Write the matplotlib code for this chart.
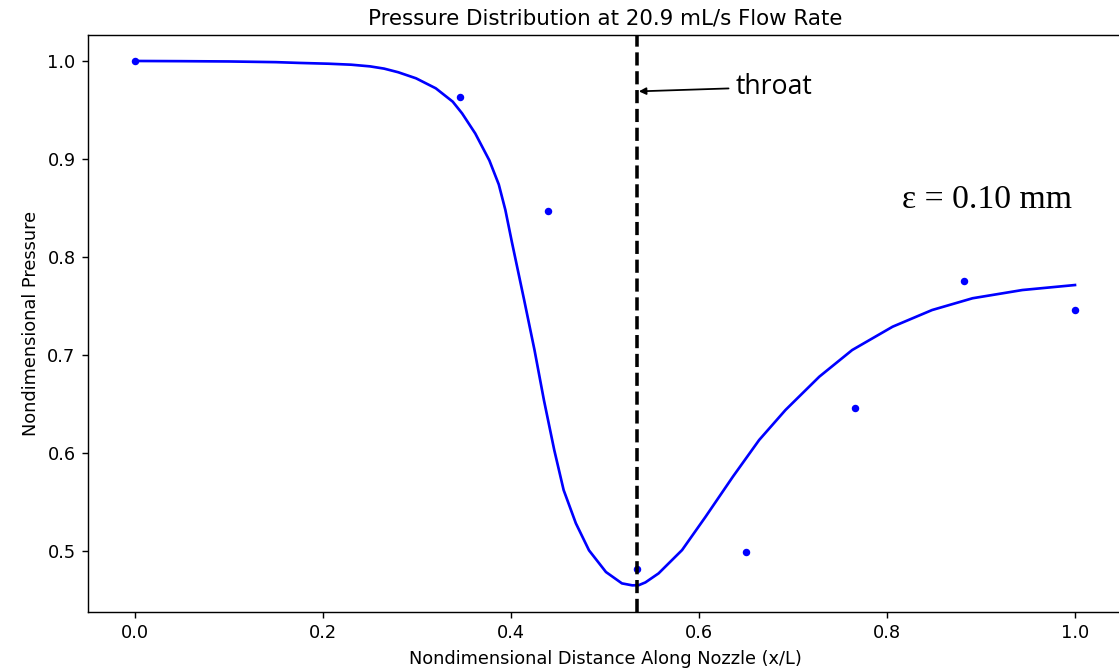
import matplotlib
matplotlib.use('Agg')
import matplotlib.pyplot as plt

# measured pressure taps
x_meas = [0.0, 0.346, 0.439, 0.534, 0.650, 0.766, 0.882, 1.0]
p_meas = [1.0, 0.963, 0.847, 0.482, 0.499, 0.646, 0.776, 0.746]

# fitted curve
x_fit = [0.0, 0.05, 0.10, 0.15, 0.175, 0.206, 0.230, 0.250, 0.265, 0.280,
         0.299, 0.320, 0.338, 0.348, 0.362, 0.377, 0.387, 0.394, 0.401,
         0.414, 0.425, 0.435, 0.446, 0.456, 0.469, 0.483, 0.501, 0.518,
         0.529, 0.536, 0.543, 0.557, 0.582, 0.607, 0.636, 0.664, 0.692,
         0.728, 0.763, 0.806, 0.848, 0.891, 0.944, 1.0]
p_fit = [1.0, 0.9998, 0.9995, 0.9988, 0.998, 0.9972, 0.9962, 0.9945, 0.9922, 0.9885,
         0.9823, 0.9721, 0.9585, 0.9465, 0.9260, 0.8985, 0.8740, 0.8480, 0.8150,
         0.7561, 0.7051, 0.6541, 0.6031, 0.5622, 0.5283, 0.5007, 0.4786, 0.4670,
         0.4650, 0.4652, 0.4680, 0.4772, 0.5010, 0.5350, 0.5758, 0.6133, 0.6439,
         0.6779, 0.7051, 0.7289, 0.7459, 0.7579, 0.7663, 0.7714]

x_throat = 0.534

fig = plt.figure(figsize=(1119 / 128, 669 / 128), dpi=128)
ax = fig.add_axes([88 / 1119, 57 / 669, 1034 / 1119, 577 / 669])

ax.plot(x_meas, p_meas, 'bo', ms=3.2)
ax.plot(x_fit, p_fit, 'b-', lw=1.5)
ax.axvline(x_throat, color='k', ls='--', lw=2)

ax.annotate('throat', xy=(0.536, 0.969), xytext=(0.639, 0.9735),
            fontsize=15, va='center', ha='left', family='Open Sans',
            arrowprops=dict(arrowstyle='-|>', color='k', lw=1,
                            shrinkA=2, shrinkB=0, mutation_scale=8))
ax.text(0.816, 0.858, '\u03b5 = 0.10 mm', fontsize=19, va='center',
        ha='left', family='Liberation Serif')

ax.spines['right'].set_visible(False)
ax.set_xlim(-0.05, 1.05)
ax.set_ylim(0.4378, 1.0265)
ax.set_xticks([0.0, 0.2, 0.4, 0.6, 0.8, 1.0])
ax.set_yticks([0.5, 0.6, 0.7, 0.8, 0.9, 1.0])
ax.set_title('Pressure Distribution at 20.9 mL/s Flow Rate')
ax.set_xlabel('Nondimensional Distance Along Nozzle (x/L)')
ax.set_ylabel('Nondimensional Pressure')

fig.savefig('out.png', dpi=128)
